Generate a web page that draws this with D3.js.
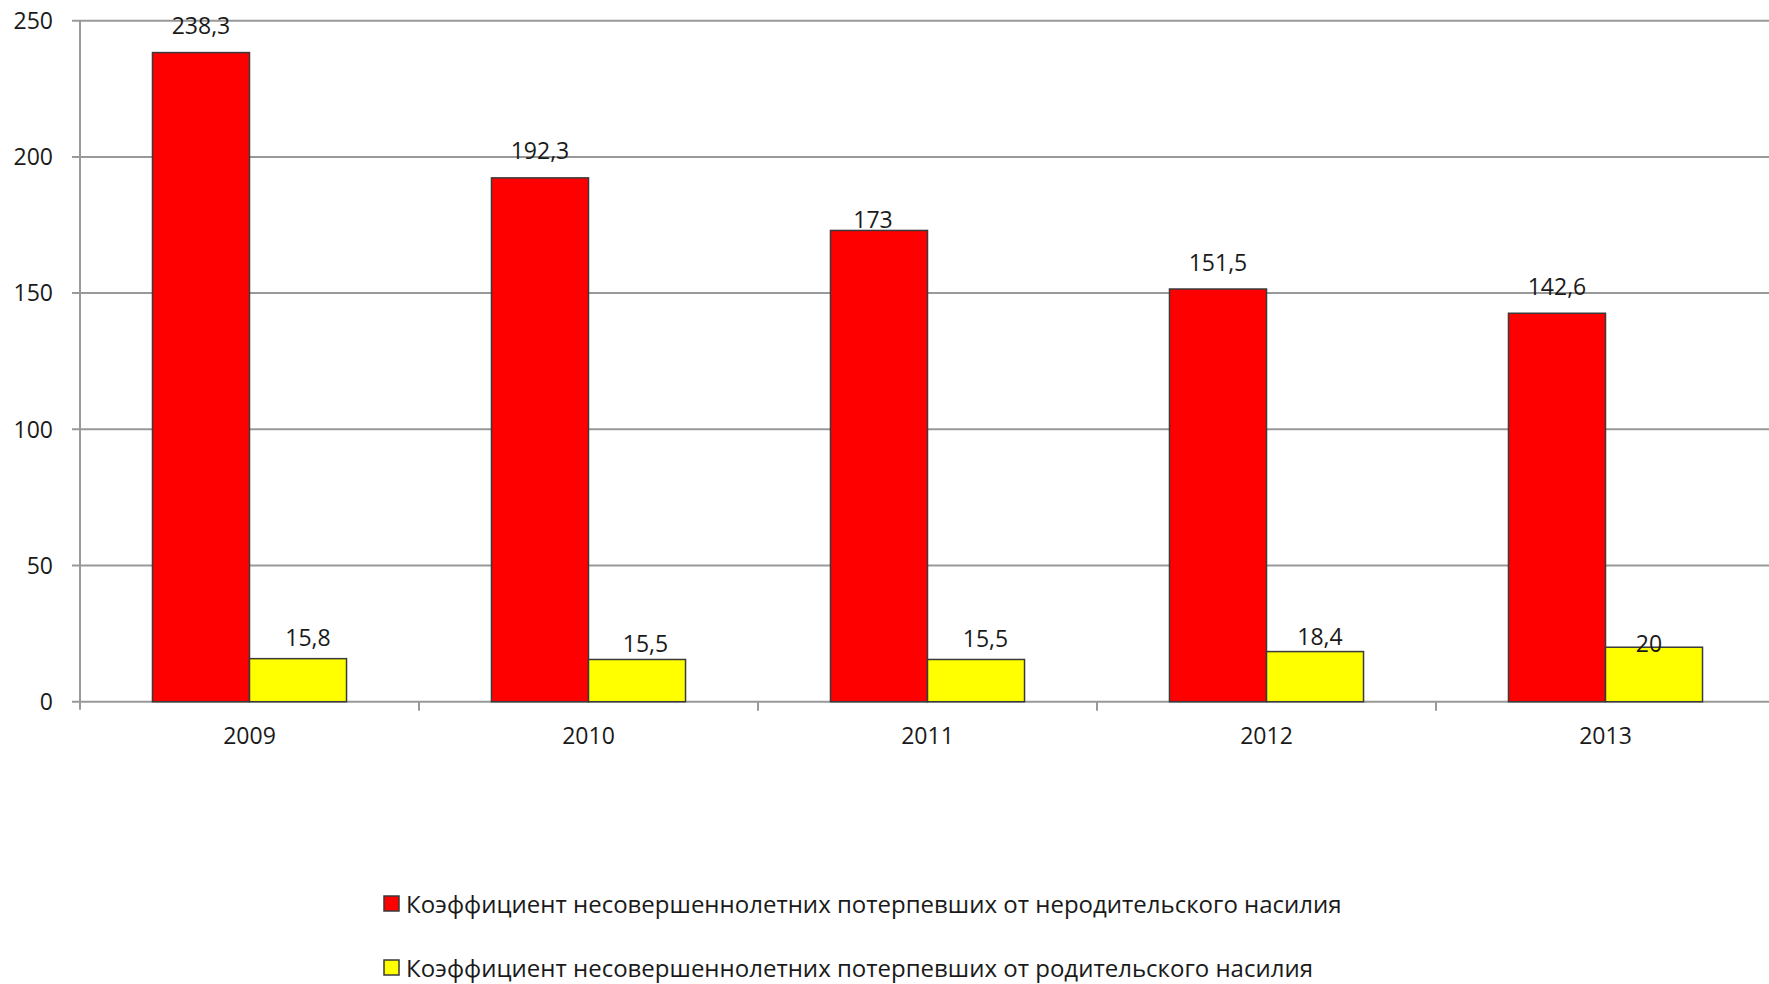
<!DOCTYPE html>
<html>
<head>
<meta charset="utf-8">
<script src="https://cdn.jsdelivr.net/npm/d3@7"></script>
<style>
    html, body { margin: 0; padding: 0; background: #fff; overflow: hidden; }
    svg { display: block; font-family: "Open Sans", sans-serif; }
    .grid-line { stroke: #999; stroke-width: 2; }
    .axis-text { font-size: 23px; fill: #1a1a1a; }
    .bar { stroke: #3a3a3a; stroke-width: 1.5; }
    .value-label { font-size: 23px; fill: #1a1a1a; text-anchor: middle; }
    .legend-text { font-size: 24px; fill: #1a1a1a; }
</style>
</head>
<body>
<div id="chart"></div>
<script>
////////////////////////////////////////////////////////////// 
//////////////////////// Data //////////////////////////////// 
////////////////////////////////////////////////////////////// 

const years = ["2009", "2010", "2011", "2012", "2013"]
const seriesNames = [
    "Коэффициент несовершеннолетних потерпевших от неродительского насилия",
    "Коэффициент несовершеннолетних потерпевших от родительского насилия"
]
const nonParental = [238.3, 192.3, 173, 151.5, 142.6]
const parental = [15.8, 15.5, 15.5, 18.4, 20]
const yTicks = [0, 50, 100, 150, 200, 250]

//Colors
const colors = ["#ff0000", "#ffff00"]

//Label nudges as placed in the original (px above the bar top / px sideways)
const labelLift = [
    [19, 19, 2, 17.6, 18.7],
    [12.7, 7.7, 12.7, 6.7, -4.7]
]
const labelShift = [
    [0, 0, -6, 0, 0],
    [10, 8.5, 9.5, 5, -5]
]

////////////////////////////////////////////////////////////// 
//////////////////////// Create SVG ////////////////////////// 
////////////////////////////////////////////////////////////// 

const width = 1769
const height = 984
const plot = { left: 80, right: 1775, top: 20.7, bottom: 701.7 }

const svg = d3.select("#chart")
    .append("svg")
    .attr("width", width)
    .attr("height", height)

const values = [nonParental, parental]

//////////////////////////////////////////////////////////////
////////////////////// Create scales /////////////////////////
//////////////////////////////////////////////////////////////

const x0 = d3.scaleBand()
    .domain(years)
    .range([plot.left, plot.right])

const x1 = d3.scaleBand()
    .domain(d3.range(seriesNames.length))
    .range([0, x0.bandwidth()])
    .paddingOuter(0.747)

const y = d3.scaleLinear()
    .domain([0, 250])
    .range([plot.bottom, plot.top])

//////////////////////////////////////////////////////////////
///////////////////// Draw gridlines /////////////////////////
//////////////////////////////////////////////////////////////

svg.append("g")
    .selectAll(".grid-line")
    .data(yTicks)
    .enter().append("line")
    .attr("class", "grid-line")
    .attr("x1", plot.left - 8)
    .attr("x2", width)
    .attr("y1", d => y(d))
    .attr("y2", d => y(d))

//Vertical axis line
svg.append("line")
    .attr("class", "grid-line")
    .attr("x1", plot.left).attr("x2", plot.left)
    .attr("y1", y(250)).attr("y2", y(0) + 8)

//Category tick marks
svg.append("g")
    .selectAll(".cat-tick")
    .data(years.slice(1))
    .enter().append("line")
    .attr("class", "grid-line")
    .attr("x1", d => x0(d)).attr("x2", d => x0(d))
    .attr("y1", y(0)).attr("y2", y(0) + 9)

//Y tick labels
svg.append("g")
    .selectAll(".y-label")
    .data(yTicks)
    .enter().append("text")
    .attr("class", "axis-text")
    .attr("x", 53)
    .attr("y", d => y(d))
    .attr("dy", "0.36em")
    .attr("text-anchor", "end")
    .text(d => d)

//X labels
svg.append("g")
    .selectAll(".x-label")
    .data(years)
    .enter().append("text")
    .attr("class", "axis-text")
    .attr("x", d => x0(d) + x0.bandwidth() / 2)
    .attr("y", 744)
    .attr("text-anchor", "middle")
    .text(d => d)

//////////////////////////////////////////////////////////////
///////////////////////// Draw bars //////////////////////////
//////////////////////////////////////////////////////////////

const groups = svg.append("g")
    .selectAll(".year-group")
    .data(years)
    .enter().append("g")
    .attr("transform", d => "translate(" + x0(d) + ",0)")

groups.selectAll(".bar")
    .data((d, i) => values.map((v, s) => ({ s: s, i: i, v: v[i] })))
    .enter().append("rect")
    .attr("class", "bar")
    .attr("x", d => x1(d.s))
    .attr("width", x1.bandwidth())
    .attr("y", d => y(d.v))
    .attr("height", d => y(0) - y(d.v))
    .style("fill", d => colors[d.s])

groups.selectAll(".value-label")
    .data((d, i) => values.map((v, s) => ({ s: s, i: i, v: v[i] })))
    .enter().append("text")
    .attr("class", "value-label")
    .attr("x", d => x1(d.s) + x1.bandwidth() / 2 + labelShift[d.s][d.i])
    .attr("y", d => y(d.v) - labelLift[d.s][d.i])
    .text(d => String(d.v).replace(".", ","))

//////////////////////////////////////////////////////////////
///////////////////////// Legend /////////////////////////////
//////////////////////////////////////////////////////////////

const legend = svg.append("g")
    .selectAll(".legend-item")
    .data(seriesNames)
    .enter().append("g")
    .attr("transform", (d, i) => "translate(384," + (896 + i * 64) + ")")

legend.append("rect")
    .attr("class", "bar")
    .attr("width", 15)
    .attr("height", 15)
    .style("fill", (d, i) => colors[i])

legend.append("text")
    .attr("class", "legend-text")
    .attr("x", 22)
    .attr("y", 8)
    .attr("dy", "0.36em")
    .text(d => d)
</script>
</body>
</html>
